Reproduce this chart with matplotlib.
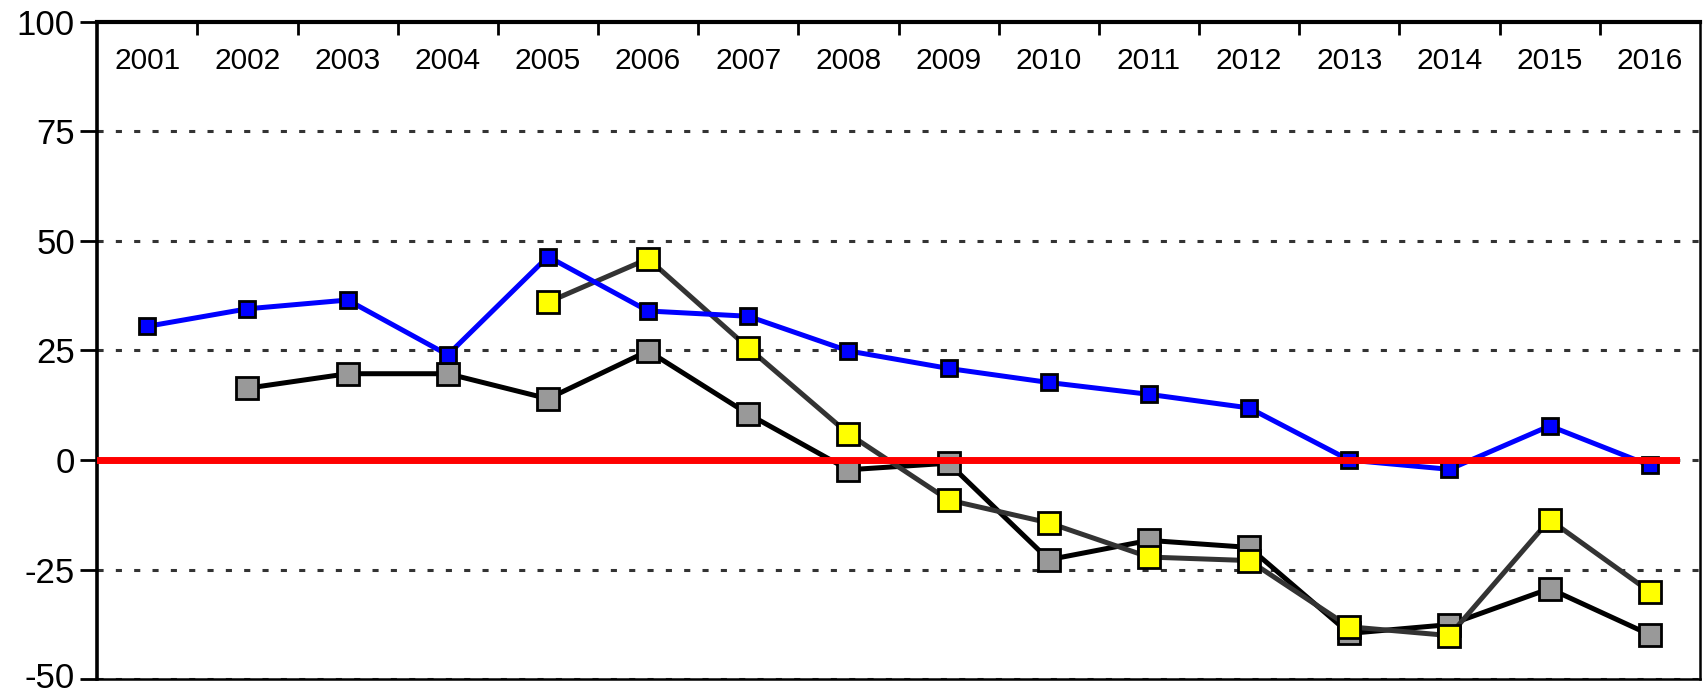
import numpy as np
import matplotlib.pyplot as plt
from matplotlib.transforms import blended_transform_factory, ScaledTranslation

plt.rcParams['font.family'] = ['Liberation Sans', 'DejaVu Sans']

years = list(range(2001, 2017))
blue_years = years
blue_vals = [30.5, 34.5, 36.5, 24.0, 46.4, 34.0, 32.8, 24.9, 20.9, 17.7, 15.0, 11.9, 0.0, -2.1, 7.8, -1.2]
gray_years = years[1:]
gray_vals = [16.4, 19.7, 19.7, 14.0, 24.9, 10.5, -2.2, -0.7, -22.7, -18.3, -19.9, -39.5, -37.5, -29.3, -39.8]
yellow_years = years[4:]
yellow_vals = [36.0, 45.9, 25.6, 6.0, -9.1, -14.3, -22.1, -22.9, -38.0, -40.0, -13.6, -30.0]
yticks = [-50, -25, 0, 25, 50, 75, 100]

fig = plt.figure(figsize=(17.05, 6.94), dpi=100)
ax = fig.add_axes([0.057, 0.021, 0.940, 0.948])

# dotted grid
for v in yticks[:-1]:
    ax.axhline(v, color='#333333', lw=2.2, ls=(0, (2, 4)), zorder=1)

ax.plot(gray_years, gray_vals, color='black', lw=3.6, marker='s', ms=16.5,
        mfc='#999999', mec='black', mew=2, zorder=3)
ax.plot(yellow_years, yellow_vals, color='#333333', lw=3.6, marker='s', ms=16.5,
        mfc='#ffff00', mec='black', mew=2, zorder=4)
ax.plot(blue_years, blue_vals, color='#0000ff', lw=3.6, marker='s', ms=11.5,
        mfc='#0000ff', mec='black', mew=2, zorder=5)
ax.axhline(0, xmax=0.985, color='#ff0000', lw=5, zorder=6)

ax.set_xlim(2000.5, 2016.5)
ax.set_ylim(-50, 100)
ax.set_yticks(yticks)
ax.set_yticklabels([str(v) for v in yticks], fontsize=25)
ax.tick_params(axis='y', direction='out', length=12, width=2, pad=4)

# keep the bottom label inside the figure
lab = ax.get_yticklabels()[0]
lab.set_transform(lab.get_transform() + ScaledTranslation(0, 3 / 72, fig.dpi_scale_trans))

ax.set_xticks([])
ax.set_xticks(np.arange(2001.5, 2016, 1), minor=True)
ax.tick_params(axis='x', which='minor', top=True, bottom=False, direction='in',
               length=9, width=2, labelbottom=False)

trans = blended_transform_factory(ax.transData, ax.transAxes)
for yr in years:
    ax.text(yr, 0.94, str(yr), transform=trans, ha='center', va='center', fontsize=21.5)

ax.spines['top'].set_linewidth(3)
ax.spines['left'].set_linewidth(2.6)
ax.spines['right'].set_linewidth(1.8)
ax.spines['bottom'].set_linewidth(1.8)

fig.savefig('out.png', dpi=100)
